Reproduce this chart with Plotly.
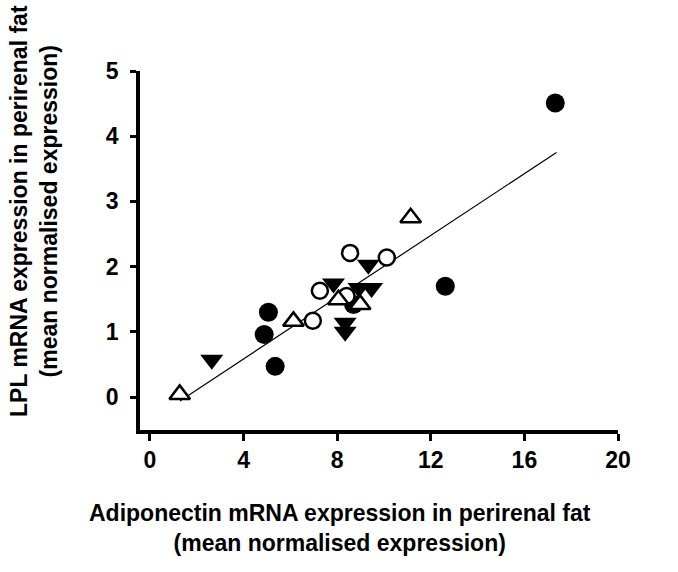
import plotly.graph_objects as go

# Data: (Adiponectin, LPL) mean normalised expression
filled_circle_x = [17.32, 12.62, 5.06, 4.88, 5.35, 8.70]
filled_circle_y = [4.51, 1.70, 1.30, 0.96, 0.47, 1.42]

open_circle_x = [8.55, 10.12, 7.26, 6.96, 8.40]
open_circle_y = [2.21, 2.14, 1.63, 1.17, 1.55]

open_triangle_x = [1.27, 6.13, 11.14, 8.05, 8.98]
open_triangle_y = [0.04, 1.16, 2.75, 1.49, 1.42]

down_triangle_x = [2.64, 7.84, 9.33, 8.93, 9.47, 8.34, 8.34]
down_triangle_y = [0.57, 1.74, 2.03, 1.67, 1.67, 1.14, 1.00]

fit_x = [1.28, 17.37]
fit_y = [-0.06, 3.75]

x_ticks = [0, 4, 8, 12, 16, 20]
y_ticks = [0, 1, 2, 3, 4, 5]

x_title = "Adiponectin mRNA expression in perirenal fat<br>(mean normalised expression)"
y_title = "LPL mRNA expression in perirenal fat<br>(mean normalised expression)"

FONT = "Arial, Liberation Sans, sans-serif"

fig = go.Figure()
fig.add_trace(go.Scatter(x=fit_x, y=fit_y, mode="lines",
                         line=dict(color="black", width=1.2), hoverinfo="skip"))
fig.add_trace(go.Scatter(x=filled_circle_x, y=filled_circle_y, mode="markers",
                         marker=dict(symbol="circle", size=19, color="black",
                                     line=dict(width=0))))
fig.add_trace(go.Scatter(x=down_triangle_x, y=down_triangle_y, mode="markers",
                         marker=dict(symbol="triangle-down", size=20, color="black",
                                     line=dict(width=0))))
fig.add_trace(go.Scatter(x=open_circle_x, y=open_circle_y, mode="markers",
                         marker=dict(symbol="circle", size=16, color="white",
                                     line=dict(width=2.5, color="black"))))
fig.add_trace(go.Scatter(x=open_triangle_x, y=open_triangle_y, mode="markers",
                         marker=dict(symbol="triangle-up", size=18, color="white",
                                     line=dict(width=2.5, color="black"))))

L, R, T, B = 140, 618, 71, 430
W, H = 678, 572

def px(v):
    return (v - L) / (R - L)

def py(v):
    return (B - v) / (B - T)

fig.update_layout(
    width=W, height=H,
    margin=dict(l=L, r=W - R, t=T, b=H - B, pad=0),
    plot_bgcolor="white", paper_bgcolor="white",
    showlegend=False,
    font=dict(family=FONT, color="black"),
    xaxis=dict(range=[-0.427, 20], tickvals=x_ticks, ticktext=[str(t) for t in x_ticks],
               showline=True, linewidth=3.5, linecolor="black",
               ticks="outside", ticklen=7, tickwidth=3, tickcolor="black",
               showgrid=False, zeroline=False,
               tickfont=dict(size=23, family=FONT, weight="bold", color="black")),
    yaxis=dict(range=[-0.506, 5], tickvals=y_ticks, ticktext=[str(t) for t in y_ticks],
               showline=True, linewidth=3.5, linecolor="black",
               ticks="outside", ticklen=6, tickwidth=3, tickcolor="black",
               showgrid=False, zeroline=False, ticklabelstandoff=7,
               tickfont=dict(size=23, family=FONT, weight="bold", color="black")),
    annotations=[
        dict(text=x_title, xref="paper", yref="paper", x=px(340), y=py(528),
             xanchor="center", yanchor="middle", showarrow=False,
             font=dict(size=23, family=FONT, weight="bold", color="black")),
        dict(text=y_title, xref="paper", yref="paper", x=px(34), y=py(211),
             xanchor="center", yanchor="middle", showarrow=False, textangle=-90,
             font=dict(size=23, family=FONT, weight="bold", color="black")),
    ],
)

fig.write_html("out.html")
